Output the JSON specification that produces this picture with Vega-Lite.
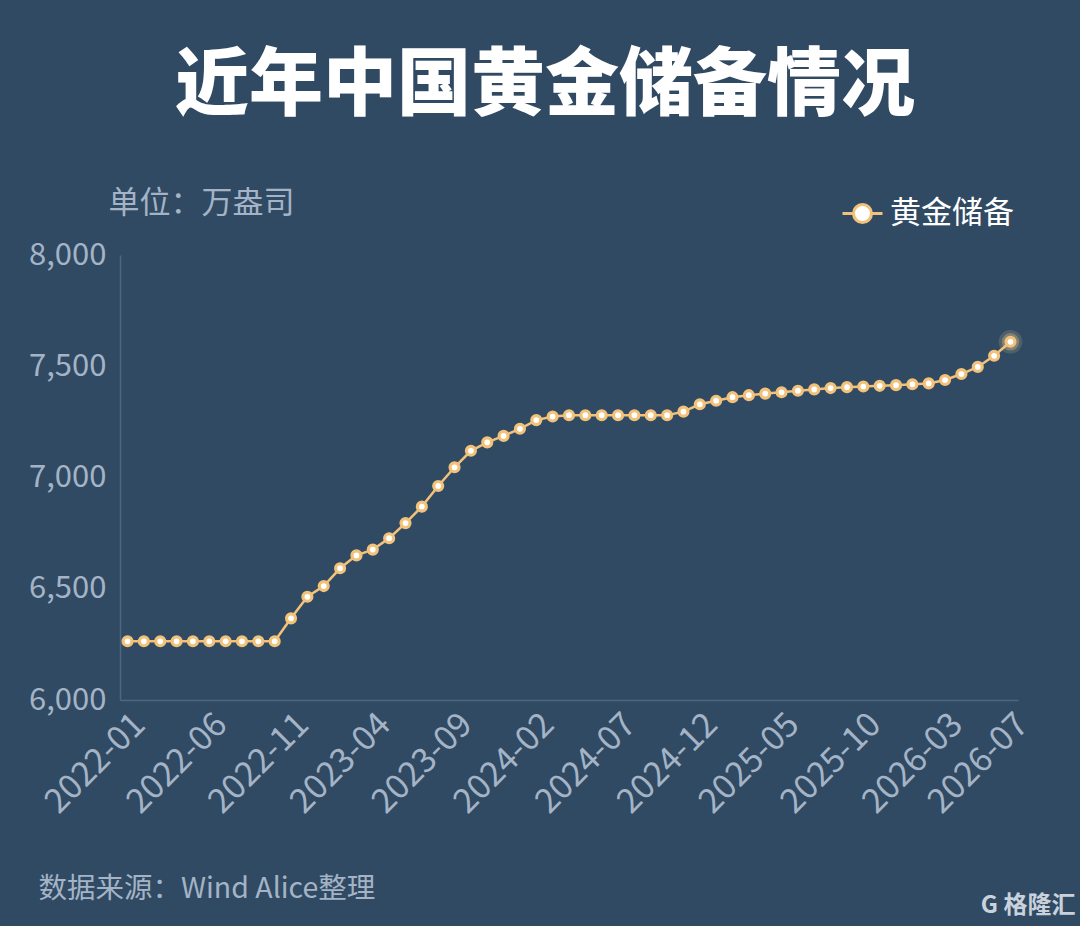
{
  "$schema": "https://vega.github.io/schema/vega-lite/v6.json",
  "width": 898,
  "height": 445,
  "autosize": {"type": "none"},
  "padding": {"left": 120, "top": 255, "right": 62, "bottom": 226},
  "background": "#304a63",
  "title": {
    "text": "近年中国黄金储备情况",
    "anchor": "middle",
    "dx": -24,
    "offset": 62,
    "fontSize": 74,
    "fontWeight": 900,
    "color": "#ffffff",
    "font": "Noto Sans CJK SC"
  },
  "config": {
    "view": {"stroke": null},
    "font": "Noto Sans CJK SC",
    "axis": {"labelFont": "Noto Sans CJK SC", "titleFont": "Noto Sans CJK SC"}
  },
  "data": {
    "values": [
      {"month": "2022-01", "value": 6264},
      {"month": "2022-02", "value": 6264},
      {"month": "2022-03", "value": 6264},
      {"month": "2022-04", "value": 6264},
      {"month": "2022-05", "value": 6264},
      {"month": "2022-06", "value": 6264},
      {"month": "2022-07", "value": 6264},
      {"month": "2022-08", "value": 6264},
      {"month": "2022-09", "value": 6264},
      {"month": "2022-10", "value": 6264},
      {"month": "2022-11", "value": 6367},
      {"month": "2022-12", "value": 6464},
      {"month": "2023-01", "value": 6512},
      {"month": "2023-02", "value": 6592},
      {"month": "2023-03", "value": 6650},
      {"month": "2023-04", "value": 6676},
      {"month": "2023-05", "value": 6727},
      {"month": "2023-06", "value": 6795},
      {"month": "2023-07", "value": 6869},
      {"month": "2023-08", "value": 6962},
      {"month": "2023-09", "value": 7046},
      {"month": "2023-10", "value": 7120},
      {"month": "2023-11", "value": 7158},
      {"month": "2023-12", "value": 7187},
      {"month": "2024-01", "value": 7219},
      {"month": "2024-02", "value": 7258},
      {"month": "2024-03", "value": 7274},
      {"month": "2024-04", "value": 7280},
      {"month": "2024-05", "value": 7280},
      {"month": "2024-06", "value": 7280},
      {"month": "2024-07", "value": 7280},
      {"month": "2024-08", "value": 7280},
      {"month": "2024-09", "value": 7280},
      {"month": "2024-10", "value": 7280},
      {"month": "2024-11", "value": 7296},
      {"month": "2024-12", "value": 7329},
      {"month": "2025-01", "value": 7345},
      {"month": "2025-02", "value": 7361},
      {"month": "2025-03", "value": 7370},
      {"month": "2025-04", "value": 7377},
      {"month": "2025-05", "value": 7383},
      {"month": "2025-06", "value": 7390},
      {"month": "2025-07", "value": 7396},
      {"month": "2025-08", "value": 7402},
      {"month": "2025-09", "value": 7406},
      {"month": "2025-10", "value": 7409},
      {"month": "2025-11", "value": 7412},
      {"month": "2025-12", "value": 7415},
      {"month": "2026-01", "value": 7419},
      {"month": "2026-02", "value": 7423},
      {"month": "2026-03", "value": 7438},
      {"month": "2026-04", "value": 7465},
      {"month": "2026-05", "value": 7497},
      {"month": "2026-06", "value": 7547},
      {"month": "2026-07", "value": 7610}
    ]
  },
  "encoding": {
    "x": {
      "field": "month",
      "type": "ordinal",
      "scale": {"type": "point", "padding": 0.46},
      "axis": {
        "values": ["2022-01", "2022-06", "2022-11", "2023-04", "2023-09", "2024-02", "2024-07", "2024-12", "2025-05", "2025-10", "2026-03", "2026-07"],
        "labelAngle": -45,
        "labelFontSize": 34,
        "labelColor": "#a4b4c6",
        "labelPadding": 7,
        "ticks": false,
        "domainColor": "#4d6783",
        "domainWidth": 1.5,
        "grid": false,
        "title": "数据来源：Wind Alice整理",
        "titleFontSize": 28.5,
        "titleFontWeight": "normal",
        "titleColor": "#a4b4c6",
        "titleAngle": 0,
        "titleAlign": "left",
        "titleBaseline": "middle",
        "titleX": -82,
        "titleY": 188
      }
    }
  },
  "layer": [
    {
      "transform": [{"filter": "datum.month === '2026-07'"}],
      "mark": {"type": "point", "filled": true, "fill": "#f7d58f", "stroke": null, "fillOpacity": 0.16, "size": 560},
      "encoding": {
        "y": {
          "field": "value",
          "type": "quantitative",
          "scale": {"domain": [6000, 8000]},
          "axis": {
            "orient": "right",
            "labels": false,
            "ticks": false,
            "domain": false,
            "grid": false,
            "title": "G 格隆汇",
            "titleFontSize": 24,
            "titleFontWeight": "bold",
            "titleColor": "#c9d2dc",
            "titleAngle": 0,
            "titleAlign": "right",
            "titleBaseline": "middle",
            "titleX": 57,
            "titleY": 650
          }
        }
      }
    },
    {
      "transform": [{"filter": "datum.month === '2026-07'"}],
      "mark": {"type": "point", "filled": true, "fill": "#f7d58f", "stroke": null, "fillOpacity": 0.3, "size": 300},
      "encoding": {
        "y": {"field": "value", "type": "quantitative", "scale": {"domain": [6000, 8000]}, "axis": null}
      }
    },
    {
      "mark": {"type": "line", "strokeWidth": 2.5},
      "encoding": {
        "y": {
          "field": "value",
          "type": "quantitative",
          "scale": {"domain": [6000, 8000]},
          "axis": {
            "values": [6000, 6500, 7000, 7500, 8000],
            "format": ",d",
            "labelFontSize": 31,
            "labelColor": "#a4b4c6",
            "labelPadding": 14,
            "ticks": false,
            "domainColor": "#4d6783",
            "domainWidth": 1.5,
            "gridColor": "#4d6783",
            "gridWidth": 1.5,
            "title": "单位：万盎司",
            "titleFontSize": 31,
            "titleFontWeight": "normal",
            "titleColor": "#a4b4c6",
            "titleAngle": 0,
            "titleAlign": "left",
            "titleBaseline": "middle",
            "titleX": -12,
            "titleY": -52
          }
        },
        "color": {
          "datum": "黄金储备",
          "type": "nominal",
          "scale": {"range": ["#f2c27a"]},
          "legend": {
            "title": null,
            "orient": "none",
            "legendX": 721,
            "legendY": -63,
            "symbolType": "M-1,0H-0.45M0.45,0H1M-0.45,0A0.45,0.45,0,1,0,0.45,0A0.45,0.45,0,1,0,-0.45,0Z",
            "symbolSize": 1600,
            "symbolStrokeWidth": 3,
            "symbolFillColor": "#ffffff",
            "symbolStrokeColor": "#f2c27a",
            "labelFontSize": 31,
            "labelColor": "#ffffff",
            "labelFont": "Noto Sans CJK SC",
            "labelOffset": 6,
            "encode": {
              "symbols": {"update": {"fill": {"value": "#ffffff"}, "stroke": {"value": "#f2c27a"}, "strokeWidth": {"value": 3}}}
            }
          }
        }
      }
    },
    {
      "mark": {"type": "point", "filled": true, "fill": "#ffffff", "stroke": "#f2c27a", "strokeWidth": 3.2, "size": 80, "opacity": 1},
      "encoding": {
        "y": {"field": "value", "type": "quantitative", "scale": {"domain": [6000, 8000]}, "axis": null}
      }
    }
  ],
  "resolve": {"scale": {"y": "independent"}, "axis": {"y": "independent"}}
}
